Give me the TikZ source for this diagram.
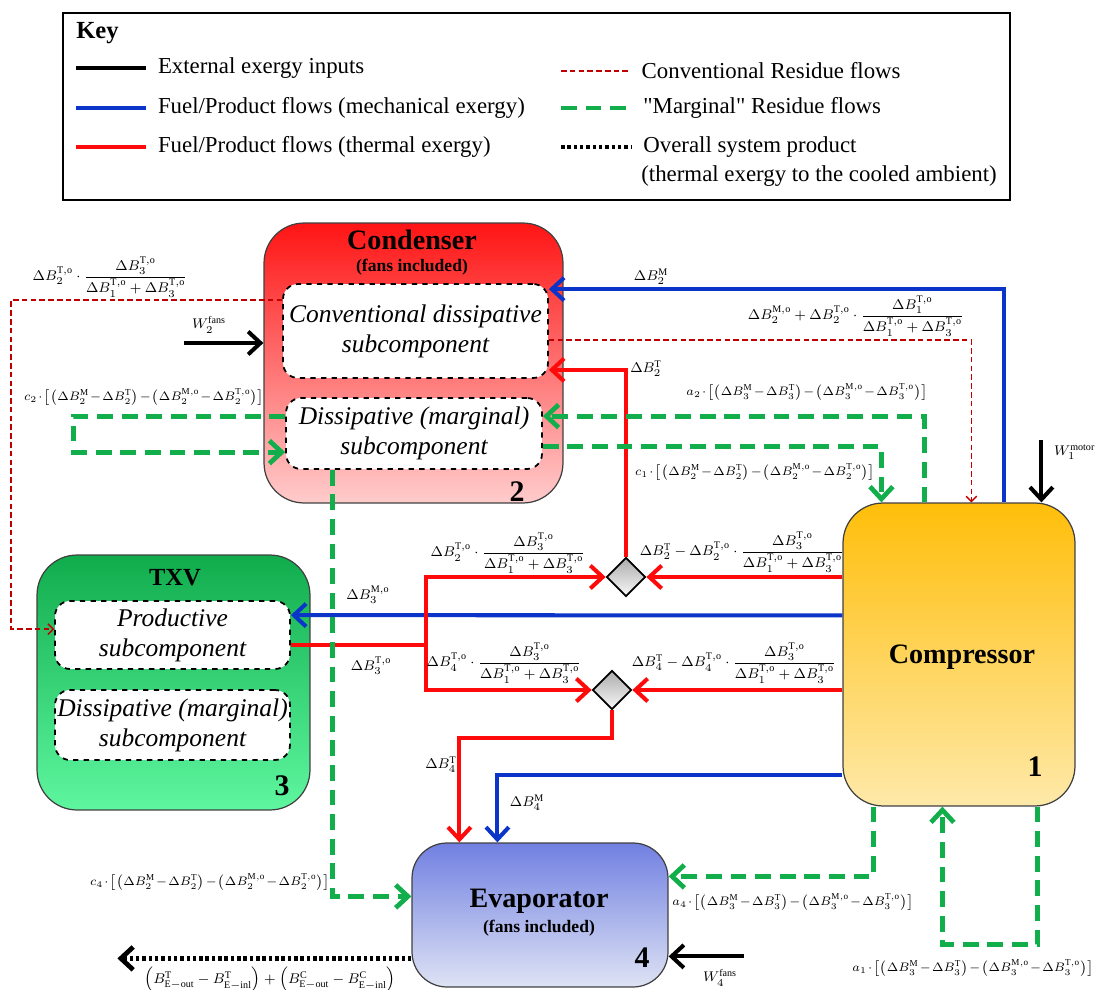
\documentclass[tikz,border=0pt]{standalone}
\usepackage{amsmath}
\usepackage{fontspec}
\setmainfont{Liberation Serif}
\newfontfamily\quotefont[Ligatures=TeXOff]{Liberation Serif}
\usetikzlibrary{arrows.meta,calc,shapes.geometric}

\definecolor{mechblue}{HTML}{0A35C8}
\definecolor{thermred}{HTML}{FF0A0A}
\definecolor{resgreen}{HTML}{12AE4C}
\definecolor{resred}{HTML}{C00000}
\definecolor{condtop}{HTML}{FF1414}
\definecolor{condbot}{HTML}{FFCCCC}
\definecolor{txvtop}{HTML}{10AC4C}
\definecolor{txvbot}{HTML}{5EF7A0}
\definecolor{comptop}{HTML}{FFBE0A}
\definecolor{compbot}{HTML}{FEE9A9}
\definecolor{evaptop}{HTML}{7180E1}
\definecolor{evapbot}{HTML}{DEE3F4}

\newcommand{\frTo}{\dfrac{\Delta B_3^{\mathrm{T,o}}}{\Delta B_1^{\mathrm{T,o}}+\Delta B_3^{\mathrm{T,o}}}}
\newcommand{\brk}[1]{\medmuskip=1.5mu\bigl[\bigl(\Delta B_{#1}^{\mathrm{M}}-\Delta B_{#1}^{\mathrm{T}}\bigr)-\bigl(\Delta B_{#1}^{\mathrm{M,o}}-\Delta B_{#1}^{\mathrm{T,o}}\bigr)\bigr]}

\begin{document}
\begin{tikzpicture}[x=0.02cm,y=-0.02cm,
  unitbox/.style={draw=black!75,line width=0.7pt,rounded corners=0.8cm,inner sep=0pt},
  subbox/.style={draw,dashed,line width=1pt,fill=white,rounded corners=0.3cm,align=center,inner sep=0pt,font=\fontsize{14.5}{17}\selectfont\itshape},
  mixer/.style={diamond,draw,line width=1pt,top color=gray!65,bottom color=gray!5,minimum size=0.78cm,inner sep=0pt},
  unittitle/.style={font=\fontsize{16}{18}\selectfont\bfseries},
  unitnum/.style={font=\fontsize{17}{18}\selectfont\bfseries},
  lbl/.style={font=\fontsize{8.2}{9}\selectfont,inner sep=1pt},
  brklbl/.style={font=\fontsize{7.4}{8}\selectfont,inner sep=1pt},
  keytxt/.style={font=\fontsize{13}{15}\selectfont,anchor=west,inner sep=0pt},
  flowtip/.style={-{Straight Barb[length=7pt,width=13pt]}},
  extline/.style={draw=black,line width=2.3pt},
  mech/.style={draw=mechblue,line width=2.3pt},
  therm/.style={draw=thermred,line width=2.3pt},
  resconv/.style={draw=resred,line width=0.8pt,dash pattern=on 3.2pt off 1.8pt},
  resmarg/.style={draw=resgreen,line width=2.7pt,dash pattern=on 9pt off 5pt},
  prod/.style={draw=black,line width=2.7pt,dash pattern=on 2pt off 1.6pt}]
\useasboundingbox (0,0) rectangle (1099,990);

% key
\node[draw,line width=0.8pt,minimum width=18.94cm,minimum height=3.74cm] (keybox) at (536.5,106.5) {};
\node[font=\fontsize{14}{16}\selectfont\bfseries,anchor=west,inner sep=0pt] (keyttl) at (76,33) {Key};
\foreach \sty/\ypos/\txt in {extline/68/{External exergy inputs},mech/108/{Fuel/Product flows (mechanical exergy)},therm/147/{Fuel/Product flows (thermal exergy)}}
  \draw[\sty] (76,\ypos) -- (146,\ypos) node[keytxt] (legl\ypos) at (156,\ypos) {\txt};
\foreach \sty/\ypos/\txt in {resconv/71/{Conventional Residue flows},resmarg/108/{{\quotefont"}Marginal{\quotefont"} Residue flows},prod/147/{Overall system product}}
  \draw[\sty] (561,\ypos) -- (631,\ypos) node[keytxt] (legr\ypos) at (641,\ypos) {\txt};
\node[keytxt] (legr176) at (641,176) {(thermal exergy to the cooled ambient)};

% components
\node[unitbox,minimum width=5.98cm,minimum height=5.6cm,top color=condtop,bottom color=condbot] (cond) at (413.5,363) {};
\node[unittitle] (condttl) at (412,240) {Condenser};
\node[font=\fontsize{10}{12}\selectfont\bfseries] (condfans) at (412,267) {(fans included)};
\node[unitnum] (condnum) at (517,492) {2};
\node[subbox,minimum width=5.3cm,minimum height=1.88cm] (condconv) at (415.5,331) {Conventional dissipative\\subcomponent};
\node[subbox,minimum width=5.12cm,minimum height=1.42cm] (condmarg) at (414,433.5) {Dissipative (marginal)\\subcomponent};

\node[unitbox,minimum width=5.46cm,minimum height=5.1cm,top color=txvtop,bottom color=txvbot] (txv) at (173.5,682.5) {};
\node[font=\fontsize{14}{16}\selectfont\bfseries] (txvttl) at (175,578) {TXV};
\node[unitnum] (txvnum) at (282,786) {3};
\node[subbox,minimum width=4.7cm,minimum height=1.36cm] (txvprod) at (172.5,635) {Productive\\subcomponent};
\node[subbox,minimum width=4.7cm,minimum height=1.4cm] (txvdiss) at (172.5,725) {Dissipative (marginal)\\subcomponent};

\node[unitbox,minimum width=4.64cm,minimum height=6.06cm,top color=comptop,bottom color=compbot] (comp) at (959,654.5) {};
\node[unittitle] (compttl) at (962,657) {Compressor};
\node[unitnum] (compnum) at (1035,767) {1};

\node[unitbox,minimum width=5.12cm,minimum height=2.88cm,rounded corners=0.7cm,top color=evaptop,bottom color=evapbot] (evap) at (540,915) {};
\node[unittitle] (evapttl) at (539,901) {Evaporator};
\node[font=\fontsize{10}{12}\selectfont\bfseries] (evapfans) at (539,928) {(fans included)};
\node[unitnum] (evapnum) at (642,958) {4};

\node[mixer] (mixA) at (626,577) {};
\node[mixer] (mixB) at (612,690) {};

% fuel/product flows
\draw[mech,flowtip] ($(comp.north west)+(162,0)$) |- ($(condconv.north east)+(0,6)$);
\draw[therm,flowtip] (mixA.north) |- ($(condconv.south east)+(0,-9)$);
\draw[therm,flowtip] (comp.west |- mixA) -- (mixA.east);
\draw[therm,flowtip] (comp.west |- mixB) -- (mixB.east);
\draw[mech,flowtip] ($(comp.north west)+(0,113)$) -- ($(txvprod.north east)+(0,15)$);
\draw[therm] ($(txvprod.north east)+(0,45)$) -- ++(135,0) coordinate (split);
\draw[therm,flowtip] (split) |- (mixA.west);
\draw[therm,flowtip] (split) |- (mixB.west);
\draw[therm,flowtip] (mixB.south) -- ++(0,28) -| ($(evap.north west)+(48,0)$);
\draw[mech,flowtip] ($(comp.north west)+(0,273)$) -| ($(evap.north west)+(86,0)$);

% external inputs and product
\draw[extline,flowtip] ($(cond.west)+(-79,-20)$) -- ($(cond.west)+(0,-20)$);
\draw[extline,flowtip] ($(comp.north west)+(199,-62)$) -- ($(comp.north west)+(199,0)$);
\draw[extline,flowtip] ($(evap.north east)+(75,114)$) -- ($(evap.north east)+(0,114)$);
\draw[prod,flowtip] ($(evap.north west)+(0,116)$) -- ++(-294,0);

% residues
\draw[resconv,-{Straight Barb[length=3pt,width=6pt]}] ($(condconv.north east)+(0,57)$) -| ($(comp.north west)+(129,0)$);
\draw[resconv,-{Straight Barb[length=3pt,width=6pt]}] ($(condconv.north west)+(0,17)$) -- ++(-271,0) |- ($(txvprod.north west)+(0,29)$);
\draw[resmarg,flowtip] ($(comp.north west)+(82,0)$) |- ($(condmarg.north east)+(0,19)$);
\draw[resmarg,flowtip] ($(condmarg.north east)+(0,49)$) -| ($(comp.north west)+(39,0)$);
\draw[resmarg,flowtip] ($(condmarg.north west)+(0,19)$) -- ++(-212,0) |- ($(condmarg.north west)+(0,55)$);
\draw[resmarg,flowtip] ($(condmarg.south west)+(47,0)$) |- ($(evap.north west)+(0,54)$);
\draw[resmarg,flowtip] ($(comp.south west)+(31,0)$) |- ($(evap.north east)+(0,34)$);
\draw[resmarg,flowtip] ($(comp.south west)+(195,0)$) -- ++(0,138) -| ($(comp.south west)+(100,0)$);

% labels
\node[lbl] (lB2M) at (651,277) {$\Delta B_2^{\mathrm{M}}$};
\node[lbl] (lconv) at (856,316) {$\Delta B_2^{\mathrm{M,o}}+\Delta B_2^{\mathrm{T,o}}\cdot\dfrac{\Delta B_1^{\mathrm{T,o}}}{\Delta B_1^{\mathrm{T,o}}+\Delta B_3^{\mathrm{T,o}}}$};
\node[lbl] (lB2T) at (646,369) {$\Delta B_2^{\mathrm{T}}$};
\node[brklbl] (la2) at (807,392) {$a_2\cdot\brk{3}$};
\node[brklbl] (lc1) at (755,472) {$c_1\cdot\brk{2}$};
\node[lbl,anchor=west] (lW1) at (1052,452) {$W_1^{\mathrm{motor}}$};
\node[brklbl] (lc2) at (144,397) {$c_2\cdot\brk{2}$};
\node[lbl] (lres) at (110,277) {$\Delta B_2^{\mathrm{T,o}}\cdot\frTo$};
\node[lbl] (lW2) at (209,325) {$W_2^{\mathrm{fans}}$};
\node[lbl] (lB3M) at (368,595) {$\Delta B_3^{\mathrm{M,o}}$};
\node[lbl] (lB3T) at (371,666) {$\Delta B_3^{\mathrm{T,o}}$};
\node[lbl] (lmixAw) at (508,553) {$\Delta B_2^{\mathrm{T,o}}\cdot\frTo$};
\node[lbl] (lmixAe) at (742,552) {$\Delta B_2^{\mathrm{T}}-\Delta B_2^{\mathrm{T,o}}\cdot\frTo$};
\node[lbl] (lmixBw) at (504,663) {$\Delta B_4^{\mathrm{T,o}}\cdot\frTo$};
\node[lbl] (lmixBe) at (734,663) {$\Delta B_4^{\mathrm{T}}-\Delta B_4^{\mathrm{T,o}}\cdot\frTo$};
\node[lbl] (lB4T) at (441,765) {$\Delta B_4^{\mathrm{T}}$};
\node[lbl] (lB4M) at (527,803) {$\Delta B_4^{\mathrm{M}}$};
\node[brklbl] (lc4) at (210,882) {$c_4\cdot\brk{2}$};
\node[brklbl] (la4) at (793,902) {$a_4\cdot\brk{3}$};
\node[brklbl] (la1) at (973,968) {$a_1\cdot\brk{3}$};
\node[lbl] (lW4) at (720,978) {$W_4^{\mathrm{fans}}$};
\node[lbl] (lprod) at (270,980) {$\Bigl(B^{\mathrm{T}}_{\mathrm{E-out}}-B^{\mathrm{T}}_{\mathrm{E-inl}}\Bigr)+\Bigl(B^{\mathrm{C}}_{\mathrm{E-out}}-B^{\mathrm{C}}_{\mathrm{E-inl}}\Bigr)$};
\end{tikzpicture}
\end{document}
